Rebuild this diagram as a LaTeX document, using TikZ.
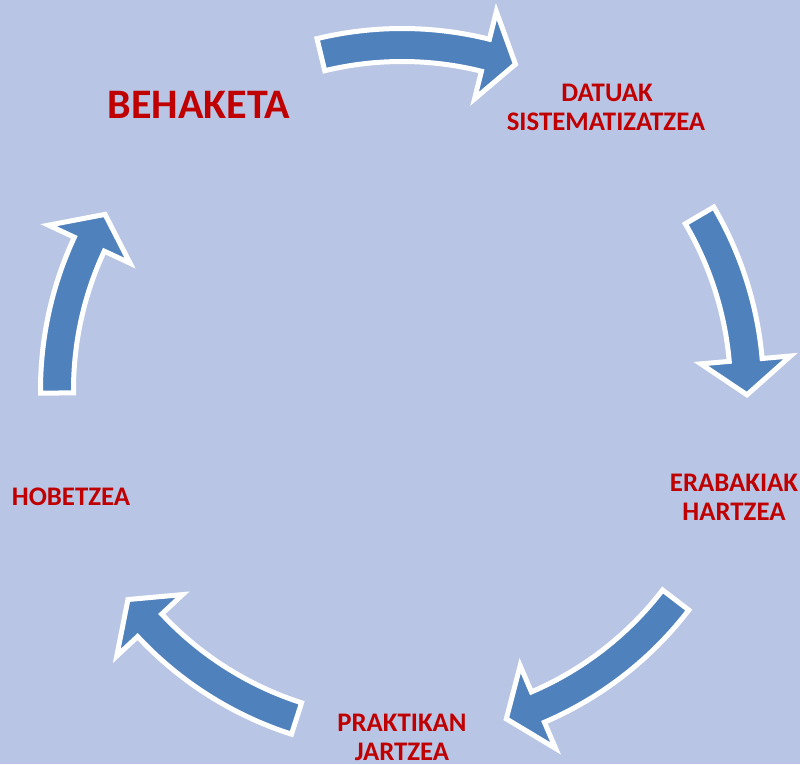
\documentclass[tikz,border=0pt]{standalone}
\usepackage{fontspec}
\setmainfont{Carlito}
\definecolor{bgc}{RGB}{185,197,228}
\definecolor{arrowblue}{RGB}{79,129,189}
\definecolor{labelred}{RGB}{192,0,0}
\def\Rc{345pt}
\def\Rout{361.5pt}
\def\Rin{328.5pt}
\def\Hout{390pt}
\def\Hin{300pt}
\newcommand\cycarrow[3]{%
  \draw[arrowshape] (#1:\Rout) arc[start angle=#1,end angle=#2,radius=\Rout]
    -- (#2:\Hout) -- (#3:\Rc) -- (#2:\Hin) -- (#2:\Rin)
    arc[start angle=#2,end angle=#1,radius=\Rin] -- cycle;}
\begin{document}
\begin{tikzpicture}[
  arrowshape/.style={fill=arrowblue, draw=white, line width=5pt, line join=miter},
  lbl/.style={font=\bfseries\fontsize{26.8}{32}\selectfont, text=labelred, inner sep=0pt, anchor=base},
  biglbl/.style={font=\bfseries\fontsize{42}{50}\selectfont, text=labelred, inner sep=0pt, anchor=base}]
\useasboundingbox (-402pt,-374pt) rectangle (398pt,390pt);
\fill[bgc] (-402pt,-374pt) rectangle (398pt,390pt);
% circular arrows
\cycarrow{103.6}{76}{70.8}
\cycarrow{30.4}{5}{-0.8}
\cycarrow{-37.5}{-66.8}{-72.4}
\cycarrow{-107.8}{-137}{-142.6}
\cycarrow{180.5}{155}{149.4}
% labels
\node[biglbl] (behaketa) at (-203pt,272pt) {BEHAKETA};
\node[lbl] (datuak1) at (205pt,289pt) {DATUAK};
\node[lbl] (datuak2) at (204pt,260pt) {SISTEMATIZATZEA};
\node[lbl] (erabaki1) at (332pt,-101pt) {ERABAKIAK};
\node[lbl] (erabaki2) at (332pt,-130pt) {HARTZEA};
\node[lbl] (praktika1) at (0pt,-341pt) {PRAKTIKAN};
\node[lbl] (praktika2) at (0pt,-370pt) {JARTZEA};
\node[lbl] (hobetzea) at (-331pt,-115pt) {HOBETZEA};
\end{tikzpicture}
\end{document}
